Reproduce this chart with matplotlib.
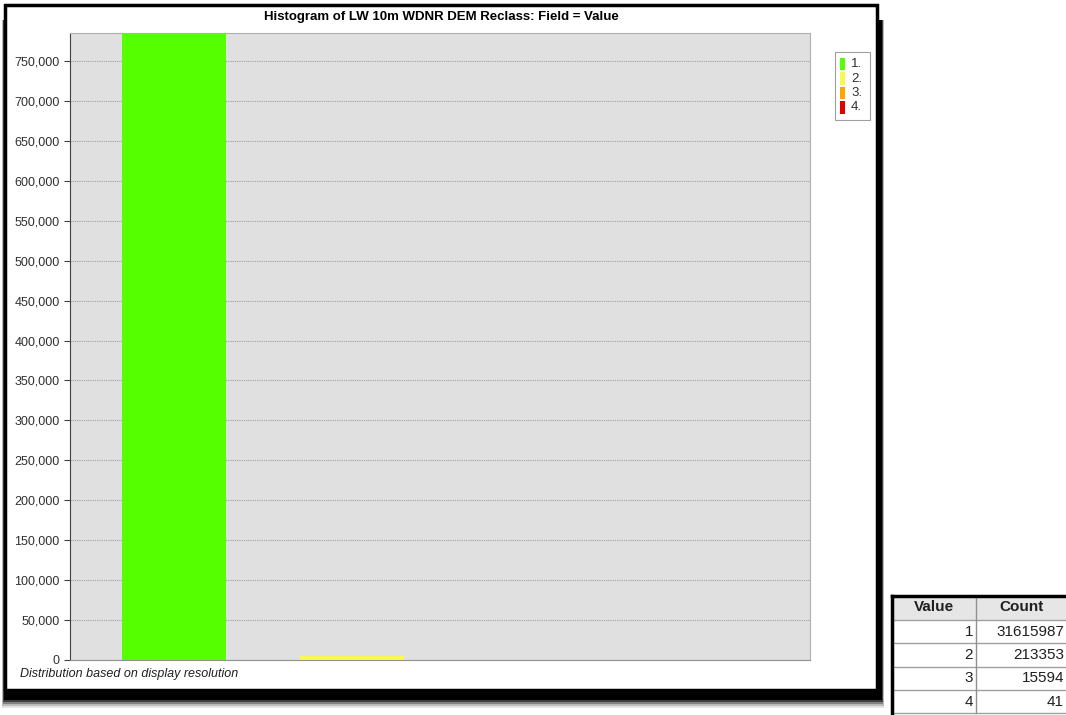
import matplotlib.pyplot as plt
from matplotlib.patches import Rectangle
from matplotlib.ticker import FuncFormatter, MultipleLocator
import numpy as np

plt.rcParams['font.family'] = ['Liberation Sans', 'DejaVu Sans']

# histogram bins (display-resolution heights)
values = [1, 2, 3, 4]
heights = [800000, 5000, 280, 1]
labels = ["1.", "2.", "3.", "4."]
colors = ["#55ff00", "#f8f850", "#ffa500", "#e00000"]

# attribute table on the right
table_values = [1, 2, 3, 4]
table_counts = [31615987, 213353, 15594, 41]

W, H = 1066, 715
fig = plt.figure(figsize=(W / 100, H / 100), dpi=100)
fig.patch.set_facecolor("white")


def fx(px):
    return px / W


def fy(py):
    return 1 - py / H


def frect(x, y, w, h, **kw):
    # rectangle in pixel coords (top-left origin)
    r = Rectangle((fx(x), fy(y + h)), fx(w), h / H, transform=fig.transFigure, **kw)
    fig.patches.append(r)
    return r


# window shadow (blurred black, heavier at the bottom)
for grow, a in [(8, 0.1), (6, 0.18), (4, 0.3), (2, 0.5), (0, 1.0)]:
    frect(4 - grow * 0.3, 20, 878 + grow * 0.6, 680 + grow, facecolor="black",
          edgecolor="none", alpha=a, zorder=0)
# window
frect(5, 5, 872, 685, facecolor="white", edgecolor="black", linewidth=2.5, zorder=1)

ax = fig.add_axes([fx(70), fy(660), fx(740), (660 - 33) / H])
ax.set_zorder(2)
ax.set_facecolor("#e0e0e0")
ax.bar(values, heights, width=0.584, color=colors, zorder=3)
ax.set_xlim(0.416, 4.573)
ax.set_ylim(0, 785000)
ax.yaxis.set_major_locator(MultipleLocator(50000))
ax.yaxis.set_major_formatter(FuncFormatter(lambda v, p: f"{int(v):,}"))
ax.set_xticks([])
ax.grid(axis="y", color="#a0a0a0", linestyle=(0, (1, 1)), linewidth=0.8, zorder=1)
ax.tick_params(axis="y", labelsize=9, length=4, color="#404040", labelcolor="#303030")
ax.spines["left"].set_color("#404040")
ax.spines["bottom"].set_color("#909090")
ax.spines["top"].set_color("#b0b0b0")
ax.spines["right"].set_color("#b0b0b0")

fig.text(fx(441), fy(17), "Histogram of LW 10m WDNR DEM Reclass: Field = Value",
         ha="center", va="center", fontsize=9.5, fontweight="bold", zorder=5)
fig.text(fx(20), fy(674), "Distribution based on display resolution",
         ha="left", va="center", fontsize=9, style="italic", color="#202020", zorder=5)

# legend
frect(835, 52, 35, 68, facecolor="white", edgecolor="#a0a0a0", linewidth=0.8, zorder=3)
for i, (lab, c) in enumerate(zip(labels, colors)):
    yc = 64 + i * 14.5
    frect(840, yc - 6, 5, 12, facecolor=c, edgecolor="none", zorder=4)
    fig.text(fx(851), fy(yc), lab, ha="left", va="center", fontsize=9.5, color="#303030", zorder=5)

# table
x0, x1, x2 = 892, 976, 1070
rows_y = [596, 620, 643, 667, 690, 713]
frect(x0, rows_y[0], x2 - x0, rows_y[1] - rows_y[0], facecolor="#e6e6e6",
      edgecolor="none", zorder=3)
for y in rows_y[1:]:
    fig.add_artist(plt.Line2D([fx(x0), fx(x2)], [fy(y), fy(y)], transform=fig.transFigure,
                              color="#a0a0a0", linewidth=1, zorder=4))
fig.add_artist(plt.Line2D([fx(x1), fx(x1)], [fy(rows_y[0]), fy(rows_y[-1])],
                          transform=fig.transFigure, color="#909090", linewidth=1, zorder=4))
fig.add_artist(plt.Line2D([fx(x0), fx(x0)], [fy(rows_y[0]), fy(715)],
                          transform=fig.transFigure, color="black", linewidth=2.5, zorder=4))
fig.add_artist(plt.Line2D([fx(x0), fx(x2)], [fy(rows_y[0]), fy(rows_y[0])],
                          transform=fig.transFigure, color="black", linewidth=2.5, zorder=4))
fig.text(fx((x0 + x1) / 2), fy(607), "Value", ha="center", va="center",
         fontsize=11, fontweight="bold", color="#202020", zorder=5)
fig.text(fx((x1 + 1066) / 2), fy(607), "Count", ha="center", va="center",
         fontsize=11, fontweight="bold", color="#202020", zorder=5)
for i, (v, c) in enumerate(zip(table_values, table_counts)):
    yc = (rows_y[i + 1] + rows_y[i + 2]) / 2
    fig.text(fx(x1 - 3), fy(yc), str(v), ha="right", va="center", fontsize=11,
             color="#202020", zorder=5)
    fig.text(fx(1064), fy(yc), str(c), ha="right", va="center", fontsize=11,
             color="#202020", zorder=5)

fig.savefig("out.png", dpi=100, facecolor="white")
